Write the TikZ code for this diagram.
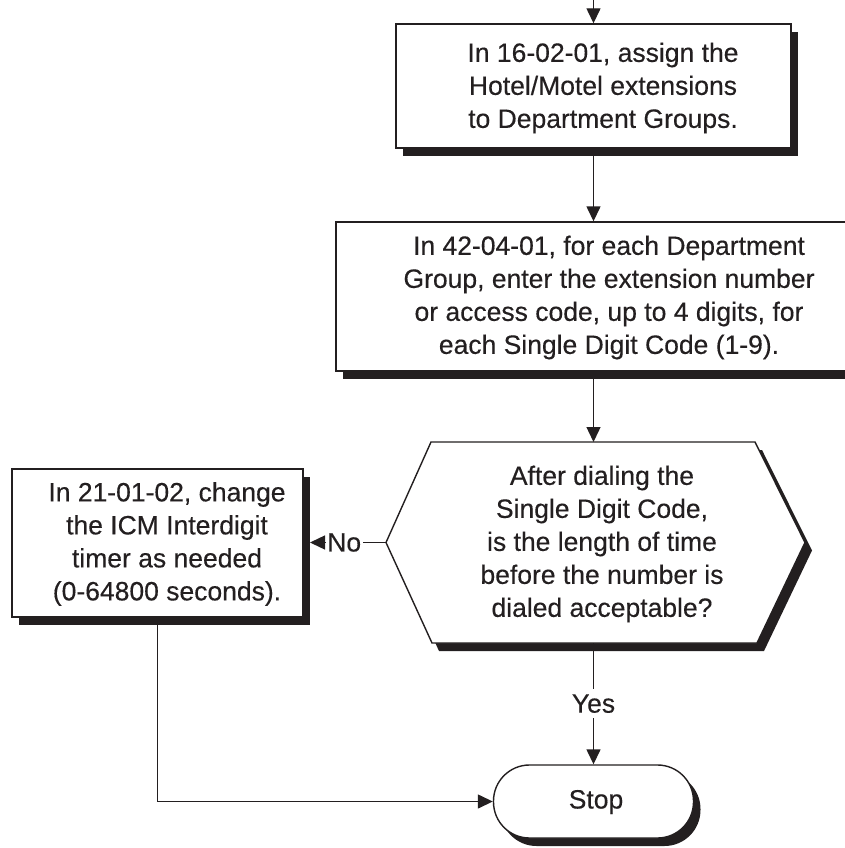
\documentclass[tikz,border=0pt]{standalone}
\usepackage{fontspec}
\setmainfont[FakeBold=0.3]{Liberation Sans}
\usetikzlibrary{arrows.meta,shadows}
\definecolor{ink}{HTML}{231F20}
\begin{document}
\begin{tikzpicture}[x=1pt,y=-1pt,
  txt/.style={align=center,font=\fontsize{26.5}{33}\selectfont,inner sep=0pt,text=ink},
  boxshape/.style={draw=ink,line width=1.4pt,fill=white,inner sep=0pt,
    drop shadow={shadow xshift=7pt,shadow yshift=-8pt,opacity=1,fill=ink}},
  conn/.style={draw=ink,line width=1.4pt},
  arr/.style={conn,-{Triangle[width=14pt,length=15pt]}},
  lbl/.style={font=\fontsize{26.5}{33}\selectfont,text=ink,fill=white,inner xsep=1.5pt,inner ysep=5pt}]
\useasboundingbox (0,0) rectangle (845,848);
\clip (0,0) rectangle (845,848);

% Box 1
\node[boxshape,minimum width=395pt,minimum height=124pt] (b1) at (593.5,86) {};
\node[txt] (t1) at (603,88) {In 16-02-01, assign the\\Hotel/Motel extensions\\to Department Groups.};

% Box 2
\node[boxshape,minimum width=515pt,minimum height=149pt] (b2) at (593.5,296.5) {};
\node[txt] (t2) at (609,297.5) {In 42-04-01, for each Department\\Group, enter the extension number\\or access code, up to 4 digits, for\\each Single Digit Code (1-9).};

% Decision
\coordinate (dL) at (386,542.5);
\coordinate (dT) at (593.5,442);
\coordinate (dB) at (593.5,643);
\fill[ink] ([shift={(7,8)}]dL) -- ++(45,-100.5) -- ++(324,0) -- ++(50,100.5) -- ++(-48,100.5) -- ++(-325,0) -- cycle;
\filldraw[fill=white,draw=ink,line width=1.4pt,line join=miter] (dL) -- ++(45,-100.5) -- ++(324,0) -- ++(50,100.5) -- ++(-48,100.5) -- ++(-325,0) -- cycle;
\node[txt] (t3) at (602,544) {After dialing the\\Single Digit Code,\\is the length of time\\before the number is\\dialed acceptable?};

% Left box
\node[boxshape,minimum width=291pt,minimum height=148pt] (lb) at (157.5,543) {};
\node[txt] (t4) at (167,544) {In 21-01-02, change\\the ICM Interdigit\\timer as needed\\(0-64800 seconds).};
\coordinate (lbs) at (310,542.5);

% Stop
\node[boxshape,rounded corners=36pt,minimum width=200pt,minimum height=73pt] (stop) at (593.5,801.5) {};
\node[txt] (t5) at (596,802) {Stop};

% Connectors
\coordinate (top) at (593.5,0);
\draw[arr] (top) -- (b1.north);
\draw[arr] (b1.south) -- (b2.north);
\draw[arr] (b2.south) -- (dT);
\draw[arr] (dB) -- (stop.north) node[lbl,pos=0.5] (yes) {Yes};
\draw[arr] (dL) -- (lbs) node[lbl,pos=0.55] (no) {No};
\draw[arr] (lb.south) |- (stop.west);
\end{tikzpicture}
\end{document}
